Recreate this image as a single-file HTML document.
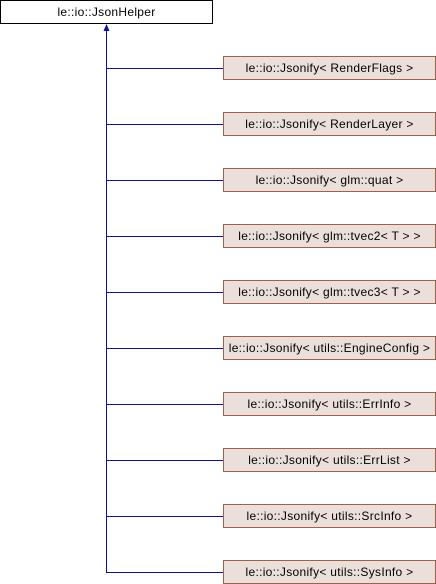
<!DOCTYPE html>
<html><head><meta charset="utf-8"><style>
body{margin:0;width:436px;height:584px;background:#fff;overflow:hidden;position:relative;font-family:"Liberation Sans",sans-serif;}
.b{position:absolute;box-sizing:border-box;height:24px;font-size:12px;letter-spacing:0.3px;line-height:22px;text-align:center;white-space:pre;color:#000;}
.t{left:0;top:0;width:213px;border:1px solid #000;background:#fff;}
.c{left:223px;width:213px;border:1px solid #a0604a;background:#ebdfda;}
</style></head><body>
<svg width="436" height="584" style="position:absolute;left:0;top:0">
<line x1="106.5" y1="28" x2="106.5" y2="572" stroke="#1010a0" stroke-width="1"/>
<polygon points="106.5,24 103.5,31 109.5,31" fill="#1010a0"/>
<g stroke="#1010a0" stroke-width="1">
<line x1="106" y1="68.5" x2="223" y2="68.5"/>
<line x1="106" y1="124.5" x2="223" y2="124.5"/>
<line x1="106" y1="180.5" x2="223" y2="180.5"/>
<line x1="106" y1="236.5" x2="223" y2="236.5"/>
<line x1="106" y1="292.5" x2="223" y2="292.5"/>
<line x1="106" y1="348.5" x2="223" y2="348.5"/>
<line x1="106" y1="404.5" x2="223" y2="404.5"/>
<line x1="106" y1="460.5" x2="223" y2="460.5"/>
<line x1="106" y1="516.5" x2="223" y2="516.5"/>
<line x1="106" y1="572.5" x2="223" y2="572.5"/>
</g></svg>
<div class="b t">le::io::JsonHelper</div>
<div class="b c" style="top:56px">le::io::Jsonify&lt; RenderFlags &gt;</div>
<div class="b c" style="top:112px">le::io::Jsonify&lt; RenderLayer &gt;</div>
<div class="b c" style="top:168px">le::io::Jsonify&lt; glm::quat &gt;</div>
<div class="b c" style="top:224px">le::io::Jsonify&lt; glm::tvec2&lt; T &gt; &gt;</div>
<div class="b c" style="top:280px">le::io::Jsonify&lt; glm::tvec3&lt; T &gt; &gt;</div>
<div class="b c" style="top:336px">le::io::Jsonify&lt; utils::EngineConfig &gt;</div>
<div class="b c" style="top:392px">le::io::Jsonify&lt; utils::ErrInfo &gt;</div>
<div class="b c" style="top:448px">le::io::Jsonify&lt; utils::ErrList &gt;</div>
<div class="b c" style="top:504px">le::io::Jsonify&lt; utils::SrcInfo &gt;</div>
<div class="b c" style="top:560px">le::io::Jsonify&lt; utils::SysInfo &gt;</div>
</body></html>
